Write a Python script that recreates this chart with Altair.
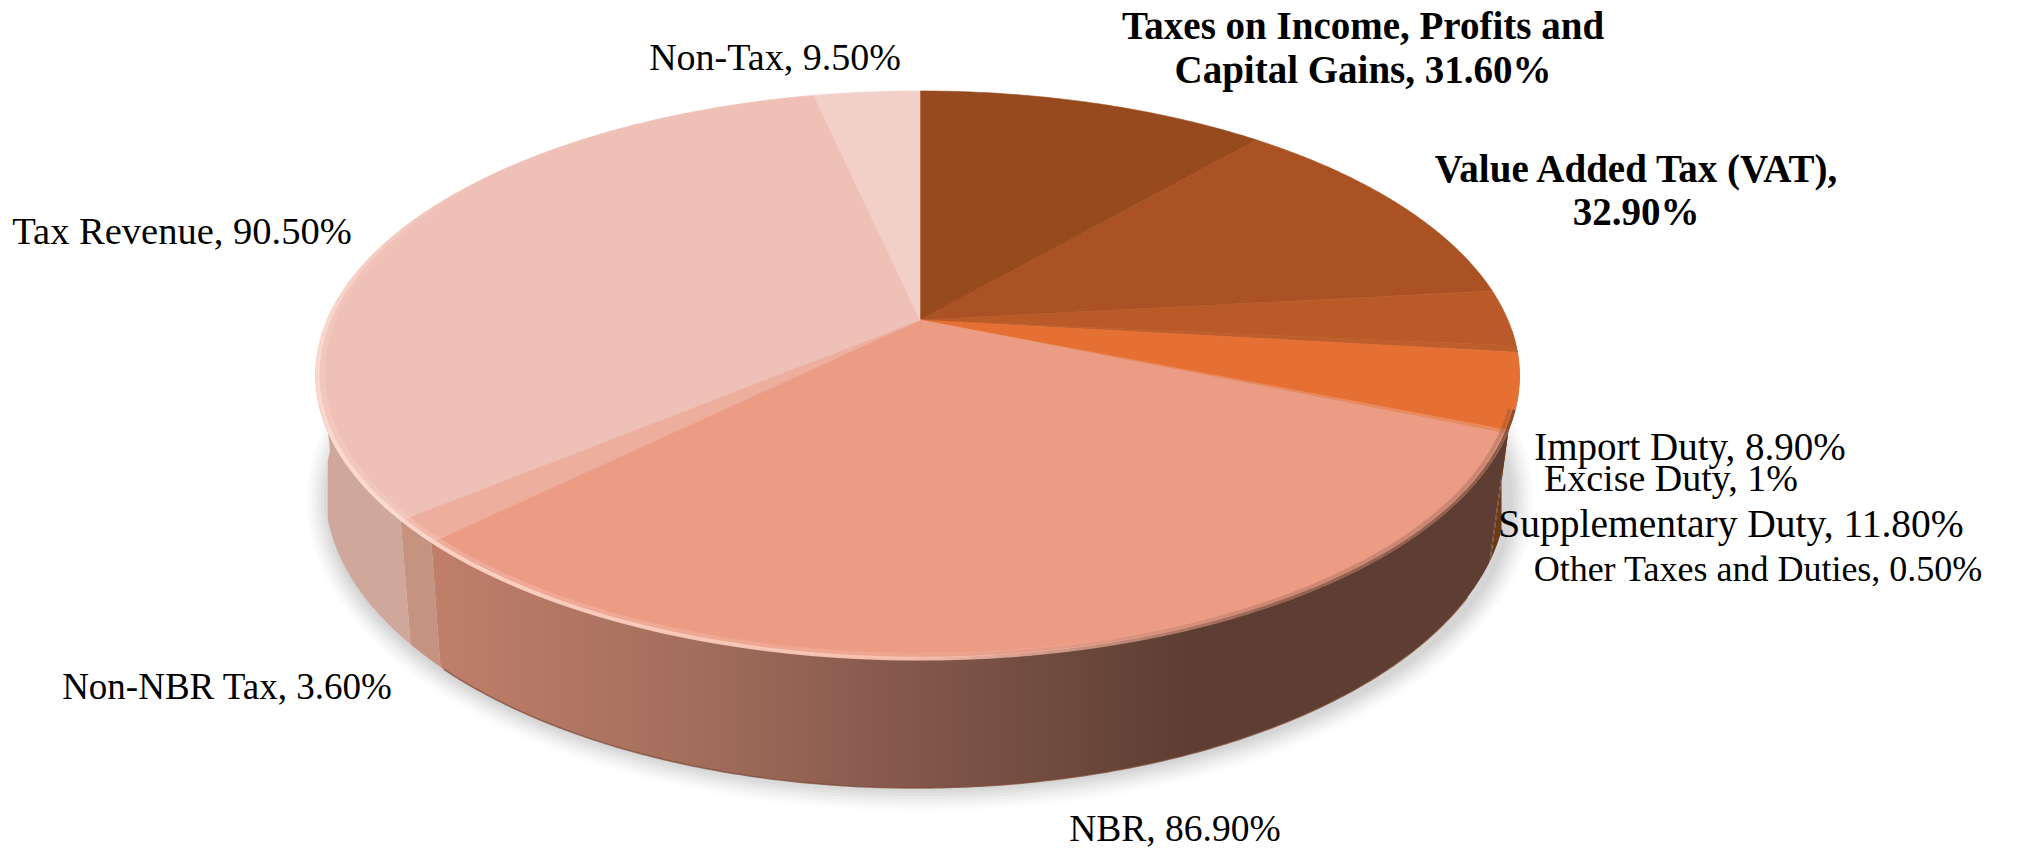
import math
import altair as alt

# Revenue shares shown on the pie, clockwise from twelve o'clock
categories = ["Taxes on Income, Profits and Capital Gains", "Value Added Tax (VAT)", "Import Duty", "Excise Duty",
              "Supplementary Duty", "Other Taxes and Duties", "NBR", "Non-NBR Tax", "Tax Revenue", "Non-Tax"]
values = [31.6, 32.9, 8.9, 1.0, 11.8, 0.5, 86.9, 3.6, 90.5, 9.5]
value_text = ["31.60%", "32.90%", "8.90%", "1%", "11.80%", "0.50%", "86.90%", "3.60%", "90.50%", "9.50%"]
top_colors = ["#974a1d", "#ab5224", "#b95a28", "#bd5e2c", "#e67033", "#e98a5e", "#ec9c85", "#eeae9e", "#efc0b6", "#f2d0c7"]
wall_colors = ["#6b3416", "#6b3416", "#6e3717", "#6e3717", "#6b3a1b", "#6b3a1b", "#5e3e33", "#c5937f", "#d0a89b", "#d0a89b"]

# Label layout: line of text, centre x, centre y, weight, font size
label_rows = [
    ("Taxes on Income, Profits and", 1363, 27, "bold", 39),
    (f"Capital Gains, {value_text[0]}", 1363, 71, "bold", 39),
    (f"{categories[1]},", 1636, 170, "bold", 39),
    (value_text[1], 1636, 213, "bold", 39),
    (f"{categories[2]}, {value_text[2]}", 1690, 448, "normal", 39),
    (f"{categories[3]}, {value_text[3]}", 1671, 480, "normal", 38),
    (f"{categories[4]}, {value_text[4]}", 1731, 525, "normal", 39.5),
    (f"{categories[5]}, {value_text[5]}", 1758, 570, "normal", 36),
    (f"{categories[6]}, {value_text[6]}", 1175, 830, "normal", 37.5),
    (f"{categories[7]}, {value_text[7]}", 227, 688, "normal", 37),
    (f"{categories[8]}, {value_text[8]}", 182, 232, "normal", 38.5),
    (f"{categories[9]}, {value_text[9]}", 775, 59, "normal", 38),
]

# Tilted-disc geometry in page pixels
APEX_X, APEX_Y, A, B, K = 920.0, 320.0, 590.4, 273.7, 0.195
SKEW = 2.5
BASE_X, BASE_Y, BASE_RX, BASE_RY = 916.0, 490.0, 591.0, 298.0
TURN_RIGHT, TURN_LEFT = 101.2, 258.8


def top_point(deg, r=1.0):
    t = math.radians(deg)
    x, y = r * math.sin(t), r * math.cos(t)
    w = 1 + K * y
    return [APEX_X + A * x / w - SKEW * x * x, APEX_Y - B * y / w]


def base_point(deg):
    px = top_point(deg)[0]
    bx = BASE_X + (px - 919) * 0.975
    s = math.sqrt(max(0.0, 1 - ((bx - BASE_X) / BASE_RX) ** 2))
    front = TURN_RIGHT <= deg <= TURN_LEFT
    return [bx, BASE_Y + (1 if front else -1) * BASE_RY * s]


def arc_degrees(a, b, step=0.5):
    n = max(2, int(abs(b - a) / step) + 1)
    return [a + (b - a) * i / (n - 1) for i in range(n)]


def polygon(ring, **props):
    return {"type": "Feature", "properties": props,
            "geometry": {"type": "Polygon", "coordinates": [ring + [ring[0]]]}}


def path(points, **props):
    return {"type": "Feature", "properties": props,
            "geometry": {"type": "LineString", "coordinates": points}}


total = sum(values)
edges = [0.0]
for v in values:
    edges.append(edges[-1] + v / total * 360)

top_features, wall_layers = [], []
for i, (a, b) in enumerate(zip(edges[:-1], edges[1:])):
    ring = [[APEX_X, APEX_Y]] + [top_point(d) for d in arc_degrees(a, b)]
    top_features.append(polygon(ring, c=top_colors[i]))
    lo, hi = max(a, 92.0), min(b, 264.0)
    if lo < hi:
        degs = arc_degrees(lo, hi)
        ring = [top_point(d) for d in degs] + [base_point(d) for d in reversed(degs)]
        wall_layers.append((i, polygon(ring, c=wall_colors[i])))

PROJ = dict(type="identity", scale=1, translate=[0, 0])


def shapes(features):
    return alt.Chart(alt.Data(values=features))


# Soft ground shadow built up from nested translucent ellipses
layers = []
for d, op in [(23, 0.02), (20, 0.025), (17, 0.03), (14, 0.03), (11, 0.035), (8, 0.04), (5, 0.04), (2, 0.04)]:
    ring = [[920 + (BASE_RX + d) * math.cos(math.radians(t)),
             500 + (288 + d) * math.sin(math.radians(t))] for t in range(0, 360, 2)]
    layers.append(shapes([polygon(ring, c="#000000")]).mark_geoshape(fill="#555555", fillOpacity=op, strokeWidth=0))

# Side walls; the NBR wall darkens from left to right
nbr_index = categories.index("NBR")
nbr_gradient = alt.Gradient(
    gradient="linear", x1=0, x2=1, y1=0, y2=0,
    stops=[alt.GradientStop(offset=0, color="#c07f6b"),
           alt.GradientStop(offset=0.24, color="#a46e5c"),
           alt.GradientStop(offset=0.40, color="#8a5c4f"),
           alt.GradientStop(offset=0.70, color="#5e3e33"),
           alt.GradientStop(offset=1, color="#5e3e33")])
for i, feature in wall_layers:
    fill = nbr_gradient if i == nbr_index else wall_colors[i]
    layers.append(shapes([feature]).mark_geoshape(fill=fill, strokeWidth=0))

# Thin darker line along the lower edge of the walls
edge_points = [base_point(d) for d in arc_degrees(120, 225)]
layers.append(shapes([path(edge_points)]).mark_geoshape(filled=False, stroke="#7a4630", strokeWidth=1.5, strokeOpacity=0.7))

# Top face
layers.append(shapes(top_features).mark_geoshape(strokeWidth=0.6).encode(
    fill=alt.Fill("properties.c:N", scale=None),
    stroke=alt.Stroke("properties.c:N", scale=None)))


def ramp(d, pts):
    for (x0, y0), (x1, y1) in zip(pts[:-1], pts[1:]):
        if x0 <= d <= x1:
            return y0 + (y1 - y0) * (d - x0) / (x1 - x0)
    return 0.0


def rim_layer(r, width, color, pts):
    feats = []
    degs = arc_degrees(pts[0][0], pts[-1][0], 2.0)
    for a, b in zip(degs[:-1], degs[1:]):
        feats.append(path([top_point(a, r), top_point(b, r)], o=round(ramp((a + b) / 2, pts), 3)))
    return shapes(feats).mark_geoshape(filled=False, stroke=color, strokeWidth=width, strokeCap="butt").encode(
        strokeOpacity=alt.StrokeOpacity("properties.o:Q", scale=None))


# Bevel along the rim: a highlight on the lit side, a shaded blend on the dark side
glow = [(150, 0), (185, 0.5), (225, 0.75), (265, 0.7), (285, 0.3), (305, 0)]
layers.append(rim_layer(0.990, 6, "#ffe2d8", [(p, o * 0.3) for p, o in glow]))
layers.append(rim_layer(0.997, 4, "#ffe2d8", glow))
shade = [(108, 0.7), (150, 0.6), (180, 0)]
layers.append(rim_layer(0.998, 3, "#5e3e33", shade))
layers.append(rim_layer(0.991, 4, "#5e3e33", [(p, o * 0.35) for p, o in shade]))

# Labels
for t, x, y, w, size in label_rows:
    layers.append(alt.Chart(alt.Data(values=[{"t": t, "px": x, "py": y}])).mark_text(
        font="Liberation Serif", fontSize=size, fontWeight=w, color="#000000", align="center", baseline="middle"
    ).encode(x=alt.X("px:Q", scale=None), y=alt.Y("py:Q", scale=None), text="t:N"))

chart = alt.layer(*layers).project(**PROJ).properties(
    width=2023, height=850, padding=0, autosize=alt.AutoSizeParams(type="none"), background="#ffffff"
).configure_view(stroke=None)

chart.save("out.html", embed_options={"renderer": "svg", "actions": False})
